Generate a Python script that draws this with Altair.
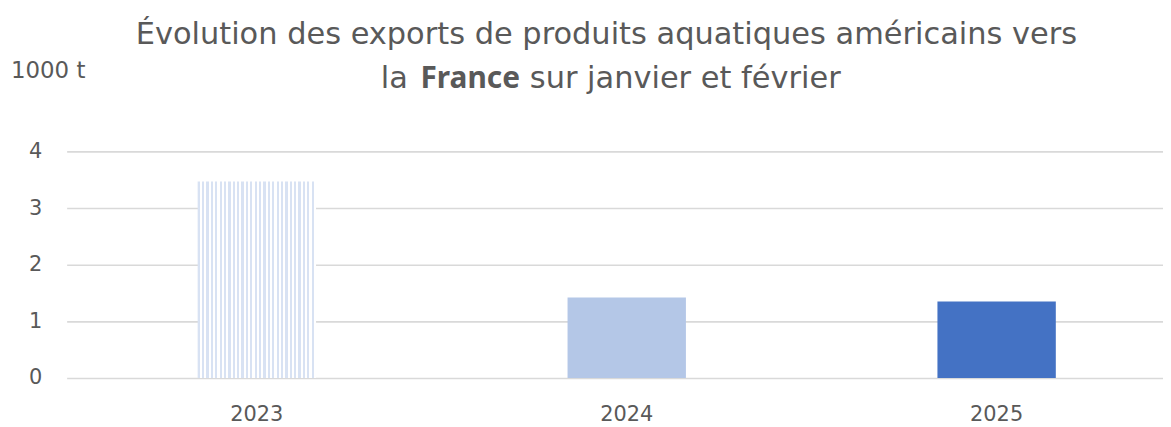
import altair as alt
import pandas as pd

# ---- data ----
years = ["2023", "2024", "2025"]
values = [3.47, 1.42, 1.35]  # milliers de tonnes
bar_colors = ["#b4c7e7", "#4472c4"]  # 2024, 2025
y_ticks = [0, 1, 2, 3, 4]

title_line1 = ["Évolution des exports de produits aquatiques américains vers"]
title_line2_a = ["la"]
title_line2_b = ["France"]
title_line2_c = ["sur janvier et février"]
unit_label = ["1000 t"]

FONT = "DejaVu Sans"
BOLD_FONT = "Noto Sans"
GREY = "#595959"

df = pd.DataFrame({"year": years, "value": values})

# striped fill for 2023 (vertical stripes)
n_stripes = 27
stops = []
for i in range(n_stripes):
    a = i / n_stripes
    b = (i + 0.5) / n_stripes
    c = (i + 1) / n_stripes
    stops += [
        {"offset": a, "color": "#d8e2f3"},
        {"offset": b, "color": "#d8e2f3"},
        {"offset": b, "color": "#ffffff"},
        {"offset": c, "color": "#ffffff"},
    ]
stripes = {"gradient": "linear", "x1": 0, "x2": 1, "y1": 0, "y2": 0, "stops": stops}

bars = alt.Chart(df).mark_bar().encode(
    x=alt.X(
        "year:N",
        sort=years,
        scale=alt.Scale(paddingInner=0.68, paddingOuter=0.322, align=0.55),
        axis=alt.Axis(
            title=None, labelAngle=0, ticks=False, domain=False, grid=False,
            labelFont=FONT, labelFontSize=21, labelColor=GREY, labelPadding=26,
        ),
    ),
    y=alt.Y(
        "value:Q",
        scale=alt.Scale(domain=[0, 4], nice=False),
        axis=alt.Axis(
            title=None, values=y_ticks, ticks=False, domain=False,
            gridColor="#d9d9d9", gridWidth=1.6,
            labelFont=FONT, labelFontSize=21, labelColor=GREY, labelPadding=25,
        ),
    ),
    color=alt.condition(
        "datum.year == '2023'",
        alt.value(stripes),
        alt.Color("year:N", scale=alt.Scale(domain=years[1:], range=bar_colors), legend=None),
    ),
)

def txt(lines, x, y, size, weight="normal", align="left", font=FONT):
    return alt.Chart(pd.DataFrame({"t": lines})).mark_text(
        font=font, fontSize=size, fontWeight=weight, color=GREY,
        align=align, baseline="alphabetic",
    ).encode(text="t:N", x=alt.value(x), y=alt.value(y))

t1 = txt(title_line1, 543, -108, 30.6, align="center")
t2a = txt(title_line2_a, 316, -64, 30.6)
t2b = txt(title_line2_b, 356, -64, 30, weight="bold", font=BOLD_FONT)
t2c = txt(title_line2_c, 466, -64, 30.6)
unit = txt(unit_label, -56, -74, 23)

chart = alt.layer(bars, t1, t2a, t2b, t2c, unit).properties(
    width=1103,
    height=228,
    autosize="none",
    padding={"left": 59, "top": 143, "right": 0, "bottom": 48},
).configure_view(stroke=None)

chart.save("out.html", embed_options={"renderer": "svg", "actions": False})
